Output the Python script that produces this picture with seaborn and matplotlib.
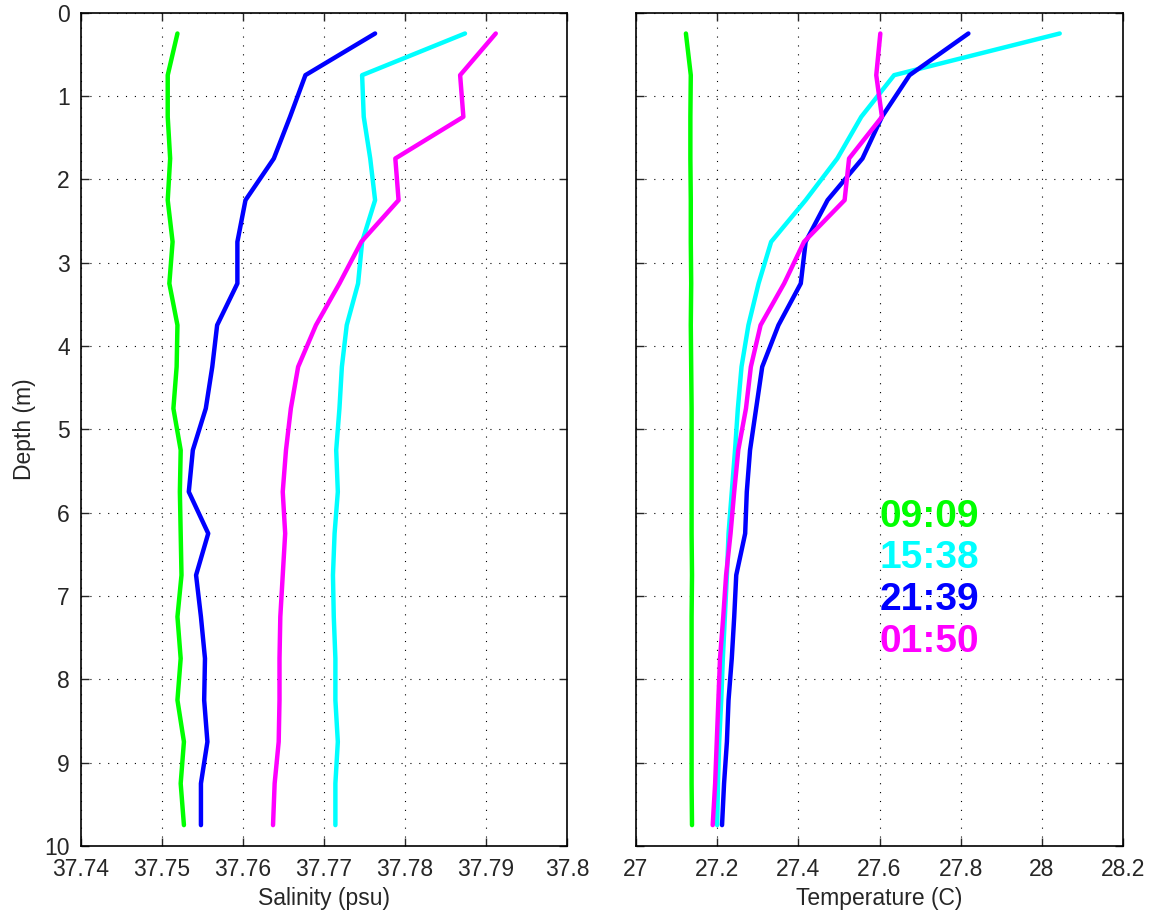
import numpy as np
import pandas as pd
import matplotlib
matplotlib.use("Agg")
import matplotlib.pyplot as plt
import seaborn as sns

depth = [0.25, 0.75, 1.25, 1.75, 2.25, 2.75, 3.25, 3.75, 4.25, 4.75,
         5.25, 5.75, 6.25, 6.75, 7.25, 7.75, 8.25, 8.75, 9.25, 9.75]
times = ["09:09", "15:38", "21:39", "01:50"]
colors = ["#00ff00", "#00ffff", "#0000ff", "#ff00ff"]

sal_0909 = [37.7519, 37.7507, 37.7507, 37.7510, 37.7507, 37.7513, 37.7509, 37.7519, 37.7518, 37.7514,
            37.7523, 37.7522, 37.7523, 37.7524, 37.7519, 37.7523, 37.7519, 37.7527, 37.7523, 37.7527]
sal_1538 = [37.7874, 37.7747, 37.7749, 37.7757, 37.7763, 37.7747, 37.7742, 37.7728, 37.7722, 37.7719,
            37.7715, 37.7717, 37.7713, 37.7711, 37.7712, 37.7714, 37.7714, 37.7717, 37.7714, 37.7714]
sal_2139 = [37.7763, 37.7677, 37.7658, 37.7638, 37.7603, 37.7593, 37.7593, 37.7568, 37.7562, 37.7554,
            37.7538, 37.7533, 37.7557, 37.7542, 37.7548, 37.7553, 37.7552, 37.7556, 37.7548, 37.7548]
sal_0150 = [37.7912, 37.7868, 37.7872, 37.7788, 37.7792, 37.7746, 37.7719, 37.7690, 37.7668, 37.7659,
            37.7653, 37.7649, 37.7652, 37.7649, 37.7646, 37.7645, 37.7645, 37.7644, 37.7639, 37.7637]

tem_0909 = [27.123, 27.135, 27.134, 27.134, 27.135, 27.135, 27.136, 27.135, 27.136, 27.137,
            27.137, 27.137, 27.137, 27.138, 27.137, 27.137, 27.137, 27.137, 27.137, 27.138]
tem_1538 = [28.044, 27.636, 27.555, 27.496, 27.418, 27.333, 27.302, 27.277, 27.260, 27.251,
            27.244, 27.236, 27.228, 27.224, 27.219, 27.214, 27.210, 27.205, 27.202, 27.200]
tem_2139 = [27.819, 27.674, 27.606, 27.558, 27.472, 27.418, 27.406, 27.351, 27.311, 27.296,
            27.281, 27.273, 27.269, 27.247, 27.242, 27.236, 27.228, 27.224, 27.217, 27.212]
tem_0150 = [27.602, 27.592, 27.606, 27.525, 27.514, 27.414, 27.365, 27.307, 27.283, 27.271,
            27.252, 27.242, 27.233, 27.222, 27.215, 27.207, 27.203, 27.199, 27.195, 27.189]

sal_ticks = [37.74, 37.75, 37.76, 37.77, 37.78, 37.79, 37.8]
sal_ticklabels = ["37.74", "37.75", "37.76", "37.77", "37.78", "37.79", "37.8"]
tem_ticks = [27, 27.2, 27.4, 27.6, 27.8, 28, 28.2]
tem_ticklabels = ["27", "27.2", "27.4", "27.6", "27.8", "28", "28.2"]
depth_ticks = list(range(0, 11))

sal_series = [sal_0909, sal_1538, sal_2139, sal_0150]
tem_series = [tem_0909, tem_1538, tem_2139, tem_0150]

rows = []
for t, s, tm in zip(times, sal_series, tem_series):
    for d, sv, tv in zip(depth, s, tm):
        rows.append({"time": t, "depth": d, "salinity": sv, "temperature": tv})
df = pd.DataFrame(rows)

sns.set_style("ticks")
plt.rcParams["font.family"] = ["Liberation Sans", "DejaVu Sans"]

fig = plt.figure(figsize=(11.53, 9.11), dpi=100)
ax1 = fig.add_axes([0.0703, 0.0714, 0.4215, 0.9147])
ax2 = fig.add_axes([0.5516, 0.0714, 0.4224, 0.9147])
palette = dict(zip(times, colors))

sns.lineplot(data=df, x="salinity", y="depth", hue="time", palette=palette,
             sort=False, estimator=None, orient="y", lw=3.2, legend=False, ax=ax1)
sns.lineplot(data=df, x="temperature", y="depth", hue="time", palette=palette,
             sort=False, estimator=None, orient="y", lw=3.2, legend=False, ax=ax2)

for ax, ticks, labels, xl in [(ax1, sal_ticks, sal_ticklabels, "Salinity (psu)"),
                              (ax2, tem_ticks, tem_ticklabels, "Temperature (C)")]:
    ax.set_xlim(ticks[0], ticks[-1])
    ax.set_ylim(10, 0)
    ax.set_xticks(ticks)
    ax.set_xticklabels(labels)
    ax.set_yticks(depth_ticks)
    ax.set_xlabel(xl, fontsize=16.5, labelpad=4)
    ax.grid(True, color="black", linestyle=(0, (1, 7)), linewidth=0.8)
    ax.tick_params(direction="in", length=6, width=1, top=True, right=True,
                   labelsize=16.5)
    ax.tick_params(axis="x", pad=9)
    ax.tick_params(axis="y", pad=8)
    for sp in ax.spines.values():
        sp.set_visible(True)
        sp.set_linewidth(1.2)
        sp.set_color("black")

ax1.set_ylabel("Depth (m)", fontsize=16.5, labelpad=6)
ax2.set_ylabel("")
ax2.set_yticklabels([])

for i, (t, c) in enumerate(zip(times, colors)):
    ax2.text(27.6, 6.05 + 0.5 * i, t, color=c, fontsize=28, fontweight="bold",
             ha="left", va="center")

fig.savefig("out.png", dpi=100)
